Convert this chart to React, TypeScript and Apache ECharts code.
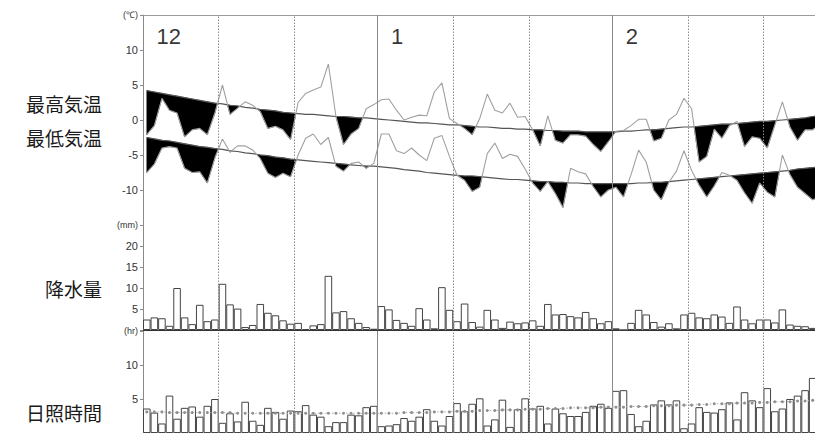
import React, { useEffect, useRef } from 'react';
import * as echarts from 'echarts';

// ---- categories / ticks ----
const monthLabels = ['12', '1', '2'];
const monthStartDays = [0, 31, 62];
const monthBoundaries = [31, 62];
const dekadBoundaries = [10, 20, 41, 51, 72, 82];
const dayCount = 90;
const rowLabels = ['最高気温', '最低気温', '降水量', '日照時間'];
const tempUnit = '(℃)';
const precipUnit = '(mm)';
const sunUnit = '(hr)';

// ---- daily values (Dec 1 .. Feb 28) ----
const maxTemp = [
  -2.1, -0.8, 3.1, 1.4, 1.0, -2.4, -1.4, -1.2, -2.1, 1.0,
  5.0, 0.8, 1.7, 2.6, 2.1, 1.2, -1.2, -0.9, -1.4, -2.8,
  2.5, 3.8, 4.3, 4.7, 8.0, 0.5, -3.5, -2.0, -1.2, 1.6, 2.2,
  2.9, 3.0, 1.4, 0.0, 0.4, 0.7, 0.6, 4.0, 5.3, 0.2,
  -0.5, -1.2, -2.1, 0.2, 3.7, 1.4, 1.0, 2.4, 0.4, 0.5,
  -1.4, -3.7, 0.6, -2.9, -3.3, -2.1, -2.1, -2.3, -3.5, -4.5, -3.1,
  -1.6, -1.5, -0.8, 0.1, 0.1, -3.0, -2.6, 0.0, 0.8, 3.1,
  1.6, -6.0, -5.2, -1.3, -2.6, -0.8, -0.2, -3.8, -2.4, -2.6,
  -4.0, -0.7, 2.6, -1.0, -2.9, -1.4, -1.4, -0.6,
];
const maxNormal = [
  4.2, 4.0, 3.8, 3.6, 3.4, 3.2, 3.0, 2.8, 2.6, 2.4,
  2.3, 2.1, 2.0, 1.8, 1.7, 1.5, 1.4, 1.3, 1.1, 1.0,
  0.9, 0.8, 0.8, 0.7, 0.6, 0.5, 0.5, 0.4, 0.3, 0.3, 0.2,
  0.1, 0.0, -0.1, -0.2, -0.3, -0.4, -0.4, -0.5, -0.6, -0.7,
  -0.7, -0.8, -0.9, -1.0, -1.0, -1.1, -1.2, -1.2, -1.3, -1.3,
  -1.4, -1.4, -1.5, -1.5, -1.6, -1.6, -1.6, -1.7, -1.7, -1.7, -1.7,
  -1.7, -1.6, -1.6, -1.5, -1.4, -1.4, -1.3, -1.2, -1.1, -1.0,
  -1.0, -0.9, -0.8, -0.7, -0.6, -0.6, -0.5, -0.4, -0.3, -0.2,
  -0.2, -0.1, 0.0, 0.1, 0.2, 0.3, 0.5, 0.6,
];
const minTemp = [
  -7.5, -6.3, -4.0, -3.8, -4.0, -6.9, -7.5, -7.4, -9.0, -5.4,
  -2.7, -4.6, -3.7, -3.7, -4.3, -5.5, -7.6, -8.2, -7.6, -8.1,
  -5.0, -2.6, -2.0, -3.5, -2.5, -6.6, -7.3, -6.2, -6.0, -6.9, -6.2,
  -2.0, -2.0, -4.4, -4.8, -4.0, -5.0, -5.8, -2.6, -2.2, -5.2,
  -7.9, -8.6, -10.2, -9.6, -4.8, -3.3, -5.5, -4.9, -5.2, -7.0,
  -9.0, -10.2, -8.8, -10.5, -12.5, -6.9, -7.4, -7.7, -9.5, -11.0, -10.0,
  -9.6, -11.0, -7.8, -4.3, -6.0, -10.0, -11.4, -8.9, -7.3, -4.4,
  -7.2, -9.3, -11.0, -9.4, -7.5, -7.9, -8.6, -10.4, -11.9, -9.0,
  -10.3, -11.0, -5.0, -7.8, -9.6, -10.5, -11.4, -11.0,
];
const minNormal = [
  -2.5, -2.7, -2.9, -3.0, -3.2, -3.4, -3.6, -3.8, -3.9, -4.1,
  -4.2, -4.4, -4.5, -4.7, -4.8, -5.0, -5.1, -5.3, -5.4, -5.6,
  -5.7, -5.8, -5.9, -6.0, -6.1, -6.2, -6.3, -6.4, -6.5, -6.6, -6.6,
  -6.7, -6.8, -6.9, -7.1, -7.2, -7.3, -7.5, -7.6, -7.7, -7.8,
  -7.9, -8.0, -8.0, -8.1, -8.2, -8.3, -8.4, -8.5, -8.5, -8.6,
  -8.7, -8.8, -8.8, -8.9, -8.9, -9.0, -9.0, -9.1, -9.1, -9.1, -9.1,
  -9.1, -9.1, -9.1, -9.0, -9.0, -8.9, -8.9, -8.8, -8.7, -8.6,
  -8.5, -8.4, -8.3, -8.2, -8.1, -8.0, -7.9, -7.8, -7.7, -7.6,
  -7.5, -7.4, -7.3, -7.2, -7.0, -6.9, -6.8, -6.7,
];
const precipitation = [
  2.5, 3.0, 2.8, 1.0, 10.0, 3.0, 1.4, 6.0, 2.1, 2.5,
  11.0, 6.1, 5.1, 0.7, 1.2, 6.2, 4.1, 3.5, 2.3, 1.5,
  1.7, 0.2, 1.1, 1.4, 12.9, 4.2, 4.5, 2.8, 1.7, 0.7, 0.3,
  5.7, 4.9, 2.4, 1.7, 1.0, 5.2, 2.5, 0.4, 10.2, 4.8,
  2.1, 6.3, 1.9, 0.8, 4.8, 2.5, 0.5, 2.0, 1.6, 1.8,
  2.3, 1.0, 6.2, 3.7, 3.8, 3.3, 3.0, 4.3, 2.8, 1.6, 2.1,
  0.4, 0, 1.7, 4.8, 3.7, 1.9, 0.8, 1.6, 0.4, 3.7,
  4.1, 3.0, 2.8, 3.7, 3.2, 1.7, 5.6, 2.5, 1.6, 2.5,
  2.5, 1.8, 4.9, 1.3, 1.0, 0.9, 0.5, 0.3,
];
const sunshine = [
  3.6, 3.0, 1.4, 5.5, 2.1, 3.7, 3.9, 2.4, 4.0, 5.0,
  1.5, 2.9, 1.7, 4.6, 1.8, 1.2, 3.7, 3.1, 2.1, 3.3,
  3.2, 4.1, 2.7, 2.4, 1.0, 1.6, 1.6, 2.7, 2.6, 3.8, 4.0,
  1.0, 1.1, 1.3, 2.2, 1.8, 2.4, 3.5, 1.8, 1.1, 2.5,
  4.4, 3.2, 4.3, 5.1, 1.1, 2.0, 4.9, 0.9, 3.5, 5.1,
  3.6, 4.0, 1.4, 3.6, 2.9, 2.5, 2.5, 3.1, 4.0, 4.3, 3.7,
  6.2, 6.3, 2.8, 1.0, 1.8, 4.2, 4.8, 4.2, 4.8, 0.7,
  1.4, 3.8, 3.1, 3.0, 3.5, 4.5, 2.0, 6.0, 4.8, 3.8,
  6.6, 3.2, 3.6, 5.0, 5.5, 6.3, 8.1, 7.0,
];
const sunshineNormal = [
  3.1, 3.1, 3.1, 3.0, 3.0, 3.0, 3.0, 3.0, 3.0, 3.0,
  3.0, 3.0, 2.9, 2.9, 2.9, 2.9, 2.9, 2.9, 2.9, 2.9,
  2.9, 2.9, 2.9, 2.9, 2.9, 2.9, 2.9, 2.9, 2.9, 2.9, 2.9,
  2.9, 2.9, 2.9, 3.0, 3.0, 3.0, 3.0, 3.1, 3.1, 3.1,
  3.2, 3.2, 3.2, 3.3, 3.3, 3.3, 3.4, 3.4, 3.4, 3.5,
  3.5, 3.5, 3.6, 3.6, 3.6, 3.7, 3.7, 3.7, 3.7, 3.8, 3.8,
  3.8, 3.8, 3.9, 3.9, 3.9, 4.0, 4.0, 4.0, 4.1, 4.1,
  4.1, 4.2, 4.2, 4.3, 4.3, 4.3, 4.4, 4.4, 4.4, 4.5,
  4.5, 4.6, 4.6, 4.6, 4.7, 4.7, 4.8, 4.8,
];

const GRID_LEFT = 143;
const GRID_WIDTH = 681;
const DAY_PX = GRID_WIDTH / dayCount;
const FONT = '"Liberation Sans", Arial, sans-serif';
const CJK = '"Noto Sans CJK JP", sans-serif';

const pts = (arr: number[]) => arr.map((v, i) => [i + 0.5, v]);

// contiguous stretches where the observed value is below the normal,
// as closed outlines in data space (normal on top, observation below)
function belowRuns(actual: number[], normal: number[]) {
  const runs: number[][][] = [];
  let upper: number[][] = [];
  let lower: number[][] = [];
  for (let i = 0; i < actual.length; i++) {
    const x = i + 0.5;
    const d = actual[i] - normal[i];
    if (i > 0) {
      const dp = actual[i - 1] - normal[i - 1];
      if ((dp < 0) !== (d < 0)) {
        const t = dp / (dp - d);
        const xc = x - 1 + t;
        const yc = normal[i - 1] + t * (normal[i] - normal[i - 1]);
        upper.push([xc, yc]);
        if (dp < 0) {
          runs.push([...upper, ...lower.reverse()]);
          upper = [];
          lower = [];
        }
      }
    }
    if (d < 0) {
      upper.push([x, normal[i]]);
      lower.push([x, actual[i]]);
    }
  }
  if (upper.length) runs.push([...upper, ...lower.reverse()]);
  return runs;
}

function fillSeries(actual: number[], normal: number[]) {
  const runs = belowRuns(actual, normal);
  return {
    type: 'custom',
    xAxisIndex: 0,
    yAxisIndex: 0,
    silent: true,
    z: 3,
    encode: { x: 0, y: 1 },
    renderItem: (_params: any, api: any) => {
      const run = runs[api.value(2)];
      return {
        type: 'polygon',
        shape: { points: run.map((p) => api.coord(p)) },
        style: { fill: '#000', stroke: '#000', lineWidth: 0.5 },
      };
    },
    data: runs.map((r, k) => [r[0][0], r[0][1], k]),
  };
}

const vLines = () => ({
  silent: true,
  symbol: 'none',
  label: { show: false },
  animation: false,
  data: [
    ...monthBoundaries.map((d) => ({ xAxis: d, lineStyle: { type: 'solid', color: '#8a8a8a', width: 1 } })),
    ...dekadBoundaries.map((d) => ({ xAxis: d, lineStyle: { type: [1.5, 1.5], color: '#8a8a8a', width: 1 } })),
  ],
});

const yAxisBase = (gridIndex: number, min: number, max: number, interval: number, fmt: (v: number) => string) => ({
  type: 'value',
  gridIndex,
  min,
  max,
  interval,
  axisLine: { show: true, lineStyle: { color: '#8a8a8a', width: 1 } },
  axisTick: { show: true, length: 3, lineStyle: { color: '#8a8a8a' } },
  splitLine: { show: false },
  axisLabel: {
    formatter: fmt,
    margin: 5,
    color: '#333',
    fontSize: 11,
    fontFamily: FONT,
    rich: { u: { fontSize: 9, color: '#333', fontFamily: FONT } },
  },
});

const xAxisBase = (gridIndex: number, extra: any) => ({
  type: 'value',
  gridIndex,
  min: 0,
  max: dayCount,
  axisLabel: { show: false },
  axisTick: { show: false },
  splitLine: { show: false },
  ...extra,
});

export default function App() {
  const ref = useRef<HTMLDivElement>(null);
  useEffect(() => {
    if (!ref.current) return;
    const chart = echarts.init(ref.current, undefined, { renderer: 'svg' });
    const labelStyle = { fill: '#1a1a1a', fontSize: 19, fontFamily: CJK, align: 'right', verticalAlign: 'middle' };
    const option: any = {
      animation: false,
      backgroundColor: '#fff',
      textStyle: { fontFamily: FONT },
      grid: [
        { left: GRID_LEFT, top: 15, width: GRID_WIDTH, height: 210 },
        { left: GRID_LEFT, top: 225, width: GRID_WIDTH, height: 105 },
        { left: GRID_LEFT, top: 331, width: GRID_WIDTH, height: 105 },
      ],
      xAxis: [
        xAxisBase(0, { position: 'top', axisLine: { show: true, onZero: false, lineStyle: { color: '#9a9a9a' } } }),
        xAxisBase(1, { position: 'bottom', axisLine: { show: true, onZero: false, lineStyle: { color: '#333', width: 1.2 } } }),
        xAxisBase(2, { axisLine: { show: false, onZero: false } }),
      ],
      yAxis: [
        yAxisBase(0, -15, 15, 5, (v) => (v === 15 ? `{u|${tempUnit}}` : v === -15 ? '' : String(v))),
        yAxisBase(1, 0, 25, 5, (v) => (v === 25 ? `{u|${precipUnit}}` : v === 0 ? '' : String(v))),
        yAxisBase(2, 0, 15, 5, (v) => (v === 15 ? `{u|${sunUnit}}` : v === 0 ? '' : String(v))),
      ],
      graphic: [
        { type: 'text', x: 102, y: 103, style: { text: rowLabels[0], ...labelStyle } },
        { type: 'text', x: 102, y: 137, style: { text: rowLabels[1], ...labelStyle } },
        { type: 'text', x: 102, y: 288, style: { text: rowLabels[2], ...labelStyle } },
        { type: 'text', x: 102, y: 412, style: { text: rowLabels[3], ...labelStyle } },
      ],
      series: [
        fillSeries(maxTemp, maxNormal),
        fillSeries(minTemp, minNormal),
        {
          type: 'line', xAxisIndex: 0, yAxisIndex: 0, data: pts(maxNormal), symbol: 'none', z: 4,
          lineStyle: { color: '#555', width: 1.2 }, markLine: vLines(),
        },
        {
          type: 'line', xAxisIndex: 0, yAxisIndex: 0, data: pts(minNormal), symbol: 'none', z: 4,
          lineStyle: { color: '#555', width: 1.2 },
        },
        {
          type: 'line', xAxisIndex: 0, yAxisIndex: 0, data: pts(maxTemp), symbol: 'none', z: 4,
          lineStyle: { color: '#a0a0a0', width: 1.1 },
        },
        {
          type: 'line', xAxisIndex: 0, yAxisIndex: 0, data: pts(minTemp), symbol: 'none', z: 4,
          lineStyle: { color: '#a0a0a0', width: 1.1 },
        },
        {
          type: 'scatter', xAxisIndex: 0, yAxisIndex: 0, symbolSize: 1, z: 6,
          itemStyle: { color: 'transparent' },
          data: monthStartDays.map((d) => [d, 12]),
          label: {
            show: true, position: 'right', distance: 13,
            formatter: (p: any) => monthLabels[p.dataIndex],
            fontSize: 22, color: '#000', fontFamily: FONT,
          },
        },
        {
          type: 'bar', xAxisIndex: 1, yAxisIndex: 1, data: pts(precipitation), barWidth: DAY_PX, z: 3,
          itemStyle: { color: '#fff', borderColor: '#444', borderWidth: 1 },
          markLine: vLines(),
        },
        {
          type: 'bar', xAxisIndex: 2, yAxisIndex: 2, data: pts(sunshine), barWidth: DAY_PX, z: 3,
          itemStyle: { color: '#fff', borderColor: '#444', borderWidth: 1 },
          markLine: vLines(),
        },
        {
          type: 'line', xAxisIndex: 2, yAxisIndex: 2, data: pts(sunshineNormal), z: 5,
          symbol: 'circle', symbolSize: 3, showSymbol: true, showAllSymbol: true,
          itemStyle: { color: '#909090' },
          lineStyle: { color: '#aaa', width: 1, type: [1.5, 2] },
        },
      ],
    };
    chart.setOption(option);
    return () => chart.dispose();
  }, []);
  // the plot continues a little past the right edge of the 815px window, as in the reference
  return (
    <div
      ref={ref}
      style={{ position: 'fixed', left: 0, top: 0, width: 830, height: 433, background: '#fff' }}
    />
  );
}
